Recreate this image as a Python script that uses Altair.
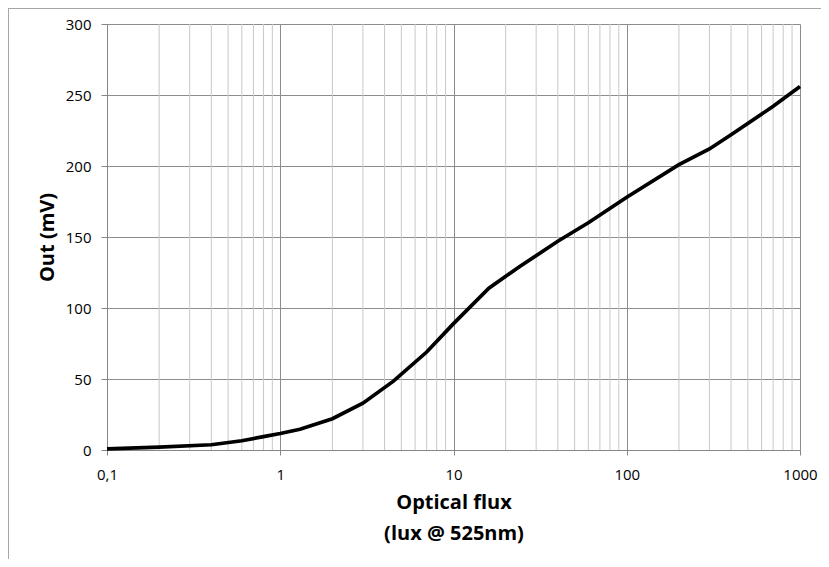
import altair as alt
import pandas as pd

# Data
flux = [0.1, 0.2, 0.4, 0.6, 0.8, 1.0, 1.3, 2, 3, 4.5, 7, 10, 16, 24, 40, 60, 100, 200, 300, 400, 700, 1000]
out_mv = [0.8, 2.0, 3.7, 6.5, 9.4, 11.6, 14.6, 22, 33, 48.5, 69, 89, 114, 129, 147, 160, 178, 201, 212, 222, 242, 256]

major_ticks = [0.1, 1, 10, 100, 1000]
minor_ticks = [0.2, 0.3, 0.4, 0.5, 0.6, 0.7, 0.8, 0.9,
               2, 3, 4, 5, 6, 7, 8, 9,
               20, 30, 40, 50, 60, 70, 80, 90,
               200, 300, 400, 500, 600, 700, 800, 900]
y_ticks = [0, 50, 100, 150, 200, 250, 300]

df = pd.DataFrame({"flux": flux, "out": out_mv})
minor_df = pd.DataFrame({"v": minor_ticks})

FONT = "Open Sans"
W, H = 693, 426

xscale = alt.Scale(type="log", domain=[0.1, 1000], nice=False)
yscale = alt.Scale(domain=[0, 300], nice=False)

x_axis = alt.Axis(
    values=major_ticks,
    labelExpr="replace(format(datum.value, '~g'), '.', ',')",
    grid=True,
    gridColor="#8c8c8c",
    gridWidth=1,
    domainColor="#868686",
    tickColor="#868686",
    tickSize=5,
    labelPadding=12,
    labelFont=FONT,
    labelFontSize=15,
    labelColor="black",
    labelFlush=False,
    title=["Optical flux", "(lux @ 525nm)"],
    titleFont=FONT,
    titleFontSize=20,
    titleFontWeight="bold",
    titleColor="black",
    titleLineHeight=31,
    titleBaseline="alphabetic",
    titleY=58,
)

y_axis = alt.Axis(
    values=y_ticks,
    grid=True,
    gridColor="#8c8c8c",
    gridWidth=1,
    domainColor="#868686",
    tickColor="#868686",
    tickSize=6,
    labelPadding=10,
    labelFont=FONT,
    labelFontSize=15,
    labelColor="black",
    title="Out (mV)",
    titleFont=FONT,
    titleFontSize=20,
    titleFontWeight="bold",
    titleColor="black",
    titleX=-60,
    titleY=H / 2,
    titleAlign="center",
    titleBaseline="middle",
)

minor = alt.Chart(minor_df).mark_rule(color="#c8c8c8", strokeWidth=1).encode(
    x=alt.X("v:Q", scale=xscale, axis=x_axis, title=["Optical flux", "(lux @ 525nm)"])
)

line = alt.Chart(df).mark_line(color="black", strokeWidth=3.7).encode(
    x=alt.X("flux:Q", scale=xscale, axis=x_axis, title=["Optical flux", "(lux @ 525nm)"]),
    y=alt.Y("out:Q", scale=yscale, axis=y_axis, title="Out (mV)"),
)

# outer chart frame (top and left edges visible in the reference)
frame_top = alt.Chart(df).mark_rule(color="#a6a6a6", strokeWidth=1).encode(
    x=alt.value(-98.5), x2=alt.value(W + 25), y=alt.value(-15.5)
)
frame_left = alt.Chart(df).mark_rule(color="#a6a6a6", strokeWidth=1).encode(
    x=alt.value(-98.5), y=alt.value(-15.5), y2=alt.value(H + 120)
)

chart = alt.layer(minor, line, frame_top, frame_left).properties(
    width=W,
    height=H,
    padding={"left": 99, "top": 16, "right": 21, "bottom": 109},
    autosize=alt.AutoSizeParams(type="none"),
).configure_view(stroke=None)

chart.save("out.html", embed_options={"renderer": "svg", "actions": False})
